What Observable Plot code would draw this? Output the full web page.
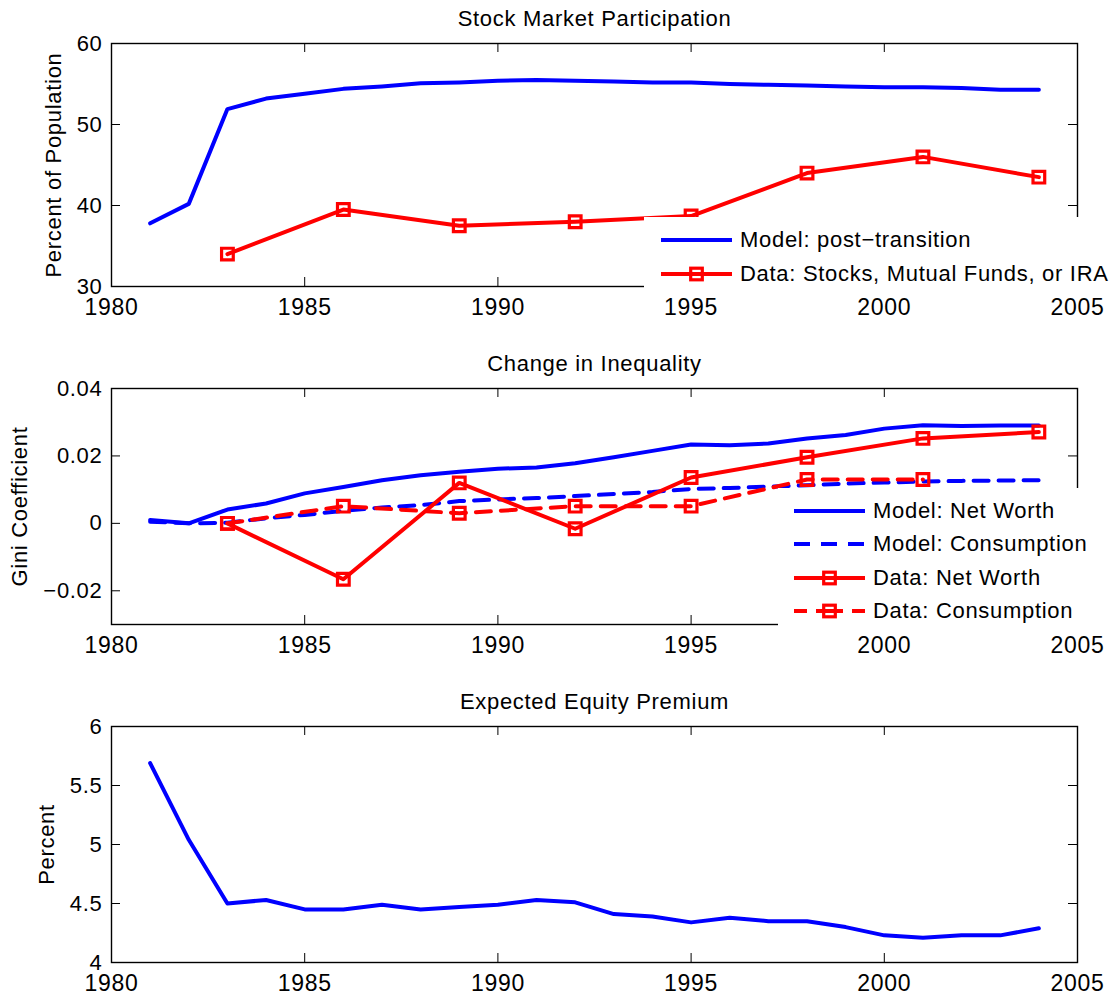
<!DOCTYPE html>
<html><head><meta charset="utf-8">
<script src="https://cdn.jsdelivr.net/npm/d3@7"></script>
<script src="https://cdn.jsdelivr.net/npm/@observablehq/plot@0.6"></script>
<style>
html,body{margin:0;padding:0;background:#fff;}
#root{position:relative;width:1119px;height:996px;font-family:"Liberation Sans",Arial,Helvetica,sans-serif;overflow:hidden;}
#root svg text{letter-spacing:0.7px;}
.panel{position:absolute;left:0;}
.legend{position:absolute;background:#fff;}
.row{position:absolute;left:0;display:flex;align-items:center;height:26px;font-size:22px;letter-spacing:0.7px;color:#000;white-space:nowrap;}
.row svg{display:block;}
</style></head><body><div id="root"></div>
<script>
// ---------- data ----------
const xTicks = [1980, 1985, 1990, 1995, 2000, 2005];
const modelYears = [1981,1982,1983,1984,1985,1986,1987,1988,1989,1990,1991,1992,1993,1994,1995,1996,1997,1998,1999,2000,2001,2002,2003,2004];
const dataYears = [1983,1986,1989,1992,1995,1998,2001,2004];
const consYears = [1983,1986,1989,1992,1995,1998,2001];

// Panel 1: Stock Market Participation
const participationModel = [37.8,40.2,51.9,53.2,53.8,54.4,54.7,55.1,55.2,55.4,55.5,55.4,55.3,55.2,55.2,55.0,54.9,54.8,54.7,54.6,54.6,54.5,54.3,54.3];
const participationData = [34.0,39.5,37.5,38.0,38.7,44.0,46.0,43.5];
const yTicks1 = [30,40,50,60];

// Panel 2: Change in Inequality
const giniModelNW = [0.0010,0.0000,0.0041,0.0059,0.0089,0.0108,0.0128,0.0143,0.0153,0.0162,0.0166,0.0178,0.0196,0.0215,0.0234,0.0232,0.0237,0.0252,0.0262,0.0281,0.0291,0.0289,0.0290,0.0290];
const giniModelC = [0.0005,0.0000,0.0002,0.0015,0.0025,0.0037,0.0047,0.0054,0.0066,0.0071,0.0075,0.0081,0.0087,0.0093,0.0102,0.0105,0.0109,0.0113,0.0118,0.0121,0.0124,0.0126,0.0127,0.0128];
const giniDataNW = [0.0000,-0.0166,0.0120,-0.0016,0.0136,0.0196,0.0252,0.0271];
const giniDataC = [0.0000,0.0051,0.0030,0.0051,0.0051,0.0130,0.0130];
const yTicks2 = [-0.02,0,0.02,0.04];

// Panel 3: Expected Equity Premium
const premiumModel = [5.69,5.04,4.50,4.53,4.45,4.45,4.49,4.45,4.47,4.49,4.53,4.51,4.41,4.39,4.34,4.38,4.35,4.35,4.30,4.23,4.21,4.23,4.23,4.29];
const yTicks3 = [4,4.5,5,5.5,6];

const BLUE = "#0000ff", RED = "#ff0000";
const FONT = '"Liberation Sans", Arial, Helvetica, sans-serif';
const LW = 4;

const rows = (xs, ys) => xs.map((x, i) => ({year: x, value: ys[i]}));

function lineMarks(xs, ys, color, dashed, markers) {
  const d = rows(xs, ys);
  const m = [Plot.line(d, {x: "year", y: "value", stroke: color, strokeWidth: LW,
    strokeDasharray: dashed ? "15,10" : null, strokeLinejoin: "round"})];
  if (markers) m.push(Plot.dot(d, {x: "year", y: "value", symbol: "square", r: 6.6,
    stroke: color, strokeWidth: 3.2, fill: "none"}));
  return m;
}

const root = document.getElementById("root");

function makePanel({top, height, mt, mb, yDomain, yTicks, yFmt, title, ylabel, ylabelDx, series}) {
  const W = 1119, ML = 111, MR = 42;
  const ph = height - mt - mb, pw = W - ML - MR, TL = 9;
  const svg = Plot.plot({
    width: W, height, marginLeft: ML, marginRight: MR, marginTop: mt, marginBottom: mb,
    x: {domain: [1980, 2005], axis: null},
    y: {domain: yDomain, axis: null},
    style: {fontFamily: FONT, fontSize: "22px", color: "black", background: "white", overflow: "visible"},
    marks: [
      ...series,
      Plot.tickX(xTicks, {x: d => d, insetTop: ph - TL, stroke: "black", strokeWidth: 1}),
      Plot.tickX(xTicks, {x: d => d, insetBottom: ph - TL, stroke: "black", strokeWidth: 1}),
      Plot.tickY(yTicks, {y: d => d, insetRight: pw - TL, stroke: "black", strokeWidth: 1}),
      Plot.tickY(yTicks, {y: d => d, insetLeft: pw - TL, stroke: "black", strokeWidth: 1}),
      Plot.frame({stroke: "black", strokeWidth: 1.4}),
      Plot.text(xTicks, {x: d => d, frameAnchor: "bottom", dy: 12, lineAnchor: "top",
        text: d => String(d), fontSize: 23, fill: "black"}),
      Plot.text(yTicks, {y: d => d, frameAnchor: "left", dx: -9, textAnchor: "end",
        text: yFmt, fontSize: 22, fill: "black"}),
      Plot.text([title], {frameAnchor: "top", dy: -33, text: d => d, fontSize: 22, fill: "black"}),
      Plot.text([ylabel], {frameAnchor: "left", dx: ylabelDx, rotate: -90, textAnchor: "middle",
        text: d => d, fontSize: 22, fill: "black"})
    ]
  });
  svg.classList.add("panel");
  svg.style.top = top + "px";
  root.appendChild(svg);
}

makePanel({
  top: 0, height: 330, mt: 43, mb: 44, yDomain: [30, 60], yTicks: yTicks1,
  yFmt: d => String(d), title: "Stock Market Participation", ylabel: "Percent of Population", ylabelDx: -58,
  series: [
    ...lineMarks(modelYears, participationModel, BLUE, false, false),
    ...lineMarks(dataYears, participationData, RED, false, true)
  ]
});

makePanel({
  top: 330, height: 336, mt: 58, mb: 42, yDomain: [-0.03, 0.04], yTicks: yTicks2,
  yFmt: d => d === 0 ? "0" : d.toFixed(2).replace("-", "\u2212"),
  title: "Change in Inequality", ylabel: "Gini Coefficient", ylabelDx: -92,
  series: [
    ...lineMarks(modelYears, giniModelNW, BLUE, false, false),
    ...lineMarks(modelYears, giniModelC, BLUE, true, false),
    ...lineMarks(dataYears, giniDataNW, RED, false, true),
    ...lineMarks(consYears, giniDataC, RED, true, true)
  ]
});

makePanel({
  top: 666, height: 330, mt: 60, mb: 34, yDomain: [4, 6], yTicks: yTicks3,
  yFmt: d => String(d), title: "Expected Equity Premium", ylabel: "Percent", ylabelDx: -65,
  series: [
    ...lineMarks(modelYears, premiumModel, BLUE, false, false)
  ]
});

// ---------- legends ----------
function swatch(color, dash, marker) {
  const w = 71, h = 26, cy = 13;
  const ns = "http://www.w3.org/2000/svg";
  const s = document.createElementNS(ns, "svg");
  s.setAttribute("width", w); s.setAttribute("height", h);
  const l = document.createElementNS(ns, "line");
  l.setAttribute("x1", 0); l.setAttribute("x2", w); l.setAttribute("y1", cy); l.setAttribute("y2", cy);
  l.setAttribute("stroke", color); l.setAttribute("stroke-width", LW);
  if (dash) l.setAttribute("stroke-dasharray", dash);
  s.appendChild(l);
  if (marker) {
    const r = document.createElementNS(ns, "rect");
    r.setAttribute("x", w / 2 - 5.8); r.setAttribute("y", cy - 5.8);
    r.setAttribute("width", 11.6); r.setAttribute("height", 11.6);
    r.setAttribute("fill", "none"); r.setAttribute("stroke", color); r.setAttribute("stroke-width", 3.2);
    s.appendChild(r);
  }
  return s;
}

function legend({left, top, width, height, lineX, items}) {
  const box = document.createElement("div");
  box.className = "legend";
  Object.assign(box.style, {left: left + "px", top: top + "px", width: width + "px", height: height + "px"});
  items.forEach(it => {
    const row = document.createElement("div");
    row.className = "row";
    row.style.left = (lineX - left) + "px";
    row.style.top = (it.cy - top - 13) + "px";
    row.appendChild(swatch(it.color, it.dash, it.marker));
    const t = document.createElement("span");
    t.textContent = it.label;
    t.style.marginLeft = "8px";
    t.style.lineHeight = "26px";
    row.appendChild(t);
    box.appendChild(row);
  });
  root.appendChild(box);
}

legend({left: 644, top: 217, width: 475, height: 73, lineX: 661, items: [
  {label: "Model: post\u2212transition", color: BLUE, dash: null, marker: false, cy: 240},
  {label: "Data: Stocks, Mutual Funds, or IRA", color: RED, dash: null, marker: true, cy: 274}
]});

legend({left: 778, top: 488, width: 341, height: 140, lineX: 794, items: [
  {label: "Model: Net Worth", color: BLUE, dash: null, marker: false, cy: 511},
  {label: "Model: Consumption", color: BLUE, dash: "16,11", marker: false, cy: 544},
  {label: "Data: Net Worth", color: RED, dash: null, marker: true, cy: 578},
  {label: "Data: Consumption", color: RED, dash: "13,9,27,9,13", marker: true, cy: 611}
]});
</script></body></html>
